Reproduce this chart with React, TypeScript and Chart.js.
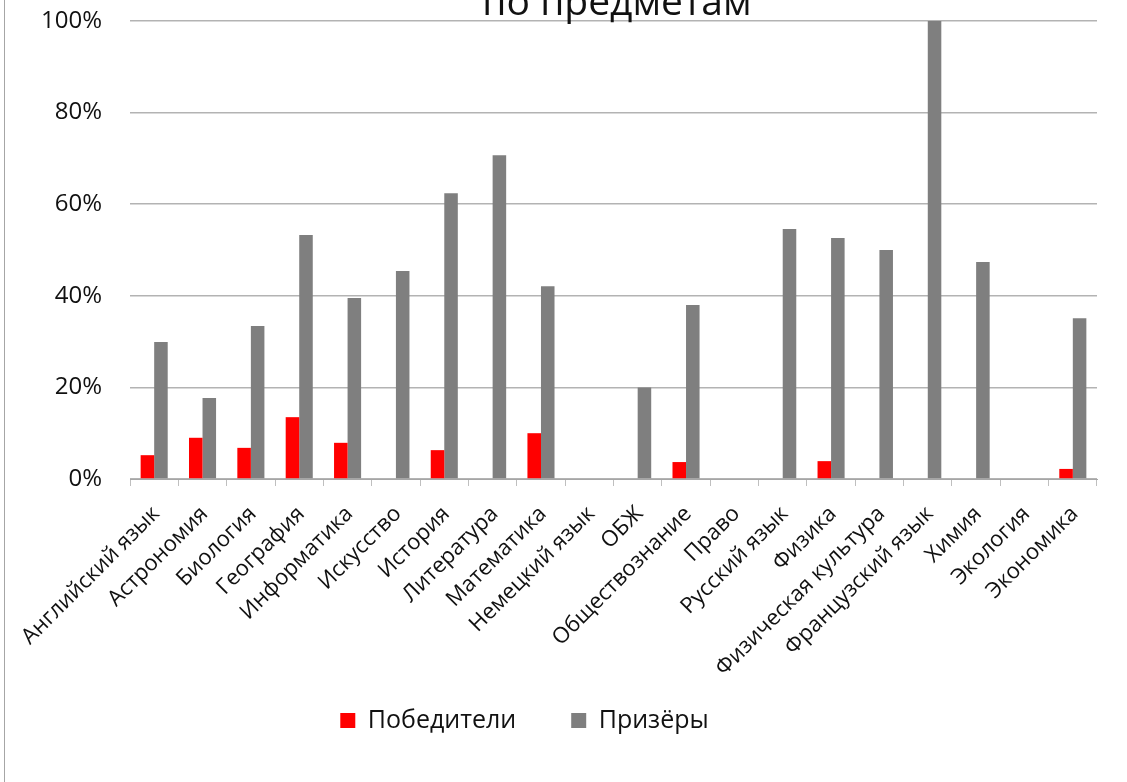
import React, { useEffect, useRef } from "react";
import { Chart, registerables } from "chart.js";

Chart.register(...registerables);

const categories: string[] = [
  "Английский язык",
  "Астрономия",
  "Биология",
  "География",
  "Информатика",
  "Искусство",
  "История",
  "Литература",
  "Математика",
  "Немецкий язык",
  "ОБЖ",
  "Обществознание",
  "Право",
  "Русский язык",
  "Физика",
  "Физическая культура",
  "Французский язык",
  "Химия",
  "Экология",
  "Экономика",
];

const winners: number[] = [5.2, 9.0, 6.8, 13.5, 7.9, 0, 6.3, 0, 10.0, 0, 0, 3.7, 0, 0, 3.9, 0, 0, 0, 0, 2.2];
const prizeWinners: number[] = [29.9, 17.7, 33.4, 53.3, 39.5, 45.4, 62.4, 70.7, 42.1, 0, 20.0, 38.0, 0, 54.6, 52.6, 50.0, 100, 47.4, 0, 35.1];

const seriesNames: string[] = ["Победители", "Призёры"];
const titleTail = "по предметам";

const FONT = "'Open Sans', 'Noto Sans', sans-serif";

const framePlugin = {
  id: "frameAndTitle",
  afterLayout(chart: any) {
    const lg = chart.legend;
    if (lg) {
      lg.left -= 24;
      lg.right -= 24;
      lg.top -= 39;
      lg.bottom -= 39;
    }
  },
  afterDraw(chart: any) {
    const ctx = chart.ctx;
    ctx.save();
    ctx.strokeStyle = "#a6a6a6";
    ctx.lineWidth = 1;
    ctx.beginPath();
    ctx.moveTo(4.5, 0);
    ctx.lineTo(4.5, chart.height);
    ctx.stroke();
    ctx.fillStyle = "#111";
    ctx.font = `39px ${FONT}`;
    ctx.textAlign = "center";
    ctx.textBaseline = "alphabetic";
    ctx.fillText(titleTail, 617, 15);
    ctx.restore();
  },
};

export default function App() {
  const ref = useRef<HTMLCanvasElement | null>(null);
  useEffect(() => {
    if (!ref.current) return;
    const chart = new Chart(ref.current, {
      type: "bar",
      data: {
        labels: categories,
        datasets: [
          {
            label: seriesNames[0],
            data: winners,
            backgroundColor: "#ff0000",
            categoryPercentage: 0.56,
            barPercentage: 1.0,
          },
          {
            label: seriesNames[1],
            data: prizeWinners,
            backgroundColor: "#7f7f7f",
            categoryPercentage: 0.56,
            barPercentage: 1.0,
          },
        ],
      },
      options: {
        animation: false,
        responsive: true,
        maintainAspectRatio: false,
        layout: { padding: { top: 21, left: 0, right: 30, bottom: 0 } },
        plugins: {
          title: { display: false },
          tooltip: { enabled: false },
          legend: {
            position: "bottom",
            labels: {
              boxWidth: 15,
              boxHeight: 15,
              padding: 55,
              color: "#111",
              font: { family: FONT, size: 25 },
            },
          },
        },
        scales: {
          x: {
            grid: {
              offset: true,
              drawOnChartArea: false,
              drawTicks: true,
              tickLength: 7,
              color: "#bfbfbf",
            },
            border: { display: true, color: "#a6a6a6" },
            ticks: {
              minRotation: 45,
              maxRotation: 45,
              autoSkip: false,
              padding: 15,
              labelOffset: 2,
              color: "#111",
              font: { family: FONT, size: 22 },
            },
            afterFit(scale: any) {
              scale.height = 213;
            },
          },
          y: {
            min: 0,
            max: 100,
            ticks: {
              stepSize: 20,
              padding: 28,
              color: "#111",
              font: { family: FONT, size: 24 },
              callback: (v: any) => `${v}%`,
            },
            grid: { color: "#b3b3b3", drawTicks: false, lineWidth: 1.5 },
            border: { display: false },
            afterFit(scale: any) {
              scale.width = 130;
              scale.paddingTop = 0;
              scale.paddingBottom = 0;
            },
          },
        },
      },
      plugins: [framePlugin],
    });
    return () => chart.destroy();
  }, []);
  return (
    <div style={{ position: "absolute", left: 0, top: 0, width: 1127, height: 782, background: "#fff" }}>
      <canvas ref={ref} />
    </div>
  );
}
